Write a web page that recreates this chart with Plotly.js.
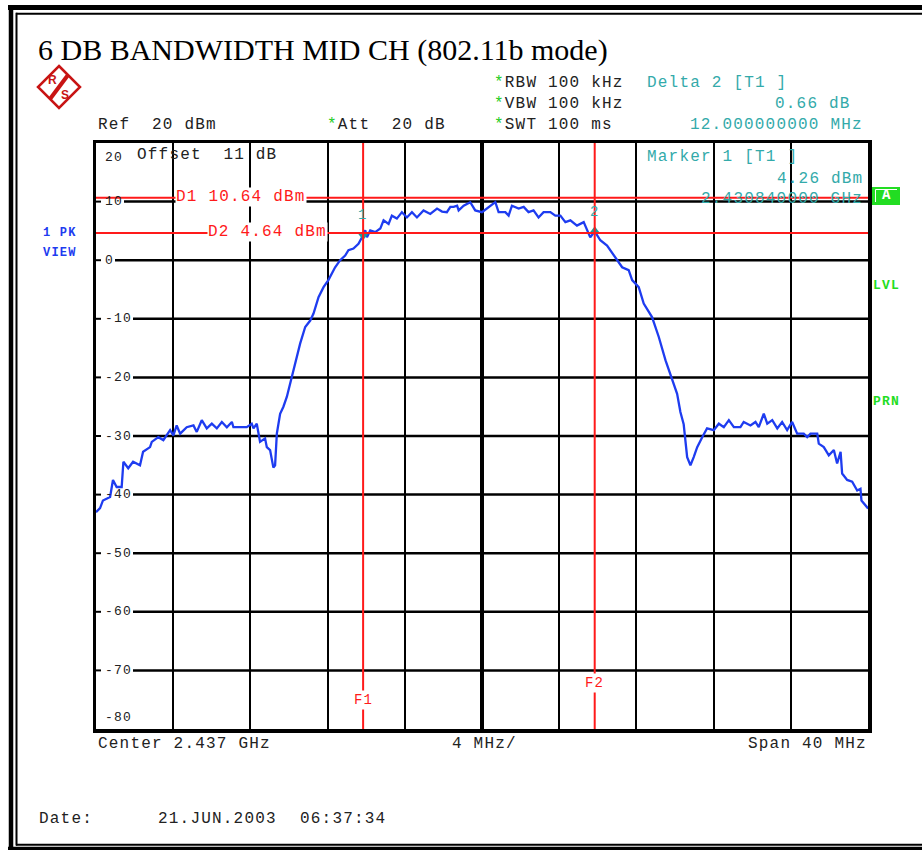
<!DOCTYPE html>
<html><head><meta charset="utf-8">
<script src="https://cdn.plot.ly/plotly-3.0.1.min.js"></script>
<style>
html,body{margin:0;padding:0;background:#fff;}
.annotation-text{letter-spacing:1.2px;}
</style></head><body>
<div id="chart" style="width:922px;height:850px;"></div>
<script>
// ---- data ----
const freqMHz = [2417.00,2417.21,2417.36,2417.73,2417.88,2418.07,2418.33,2418.42,2418.67,2418.92,2419.28,2419.44,2419.80,2419.89,2420.23,2420.49,2420.84,2421.01,2421.18,2421.36,2421.70,2422.05,2422.22,2422.48,2422.74,2423.00,2423.26,2423.52,2423.78,2424.04,2424.12,2424.81,2425.07,2425.16,2425.33,2425.42,2425.50,2425.76,2425.85,2426.02,2426.11,2426.19,2426.28,2426.37,2426.54,2426.71,2426.89,2427.15,2427.32,2427.58,2427.84,2428.10,2428.27,2428.53,2428.79,2429.04,2429.39,2429.65,2429.91,2430.08,2430.34,2430.60,2430.84,2430.95,2431.04,2431.21,2431.47,2431.73,2431.90,2432.16,2432.33,2432.59,2432.85,2433.11,2433.37,2433.63,2433.97,2434.32,2434.67,2434.93,2435.18,2435.36,2435.53,2435.71,2435.79,2436.05,2436.39,2436.65,2437.00,2437.34,2437.69,2437.86,2438.21,2438.38,2438.55,2438.90,2439.16,2439.41,2439.67,2439.93,2440.19,2440.54,2440.80,2441.06,2441.32,2441.58,2441.92,2442.27,2442.44,2442.61,2442.84,2443.13,2443.48,2443.82,2444.26,2444.60,2444.78,2445.12,2445.38,2445.81,2446.16,2446.51,2446.85,2447.11,2447.28,2447.45,2447.63,2447.80,2447.97,2448.15,2448.41,2448.66,2449.01,2449.27,2449.53,2449.79,2450.05,2450.39,2450.56,2450.91,2451.17,2451.34,2451.60,2451.78,2452.04,2452.30,2452.55,2452.81,2453.07,2453.33,2453.67,2453.85,2454.02,2454.37,2454.45,2454.71,2454.97,2455.23,2455.40,2455.58,2455.66,2455.92,2456.18,2456.44,2456.61,2456.66,2456.96,2457.00];
const levelDbm = [-43.0,-42.3,-41.0,-40.4,-37.5,-38.7,-38.7,-34.4,-35.5,-34.4,-35.0,-32.7,-31.9,-31.0,-30.2,-30.7,-29.0,-29.9,-28.2,-29.6,-28.5,-28.2,-29.3,-27.3,-28.7,-27.9,-28.7,-27.6,-28.5,-27.6,-28.5,-28.5,-27.9,-28.7,-27.9,-29.6,-31.0,-30.4,-31.9,-32.4,-33.8,-35.4,-35.0,-29.6,-26.2,-25.0,-23.3,-19.9,-17.6,-14.2,-11.4,-10.3,-9.1,-6.3,-4.6,-3.4,-1.2,0.0,0.8,1.7,2.0,2.8,4.26,5.1,3.9,5.1,4.8,5.4,6.8,6.2,7.6,7.1,8.2,7.3,8.2,7.3,8.5,7.9,8.8,8.3,8.2,9.1,9.1,9.3,8.5,9.3,9.9,8.5,8.2,9.1,9.9,8.2,8.2,7.6,9.3,8.8,9.1,8.2,8.5,7.3,8.2,8.2,7.6,7.6,6.5,6.8,5.9,6.5,5.1,3.9,4.92,3.4,2.5,0.8,-1.2,-1.7,-3.4,-4.6,-7.4,-9.7,-13.1,-17.1,-20.2,-22.8,-25.9,-28.0,-33.6,-35.0,-33.6,-31.9,-30.2,-28.7,-29.0,-27.9,-28.5,-27.3,-28.5,-28.5,-27.6,-28.2,-27.6,-28.5,-26.2,-27.9,-27.3,-28.7,-27.6,-29.0,-27.6,-29.6,-29.6,-30.2,-29.6,-29.6,-31.3,-31.9,-33.3,-32.4,-34.7,-32.7,-36.4,-37.5,-37.8,-39.3,-39.0,-41.0,-42.2,-42.4];
const yTickVals = [20,10,0,-10,-20,-30,-40,-50,-60,-70,-80];
const centerMHz = 2437;
const spanMHz = 40;
const divMHz = 4;
const refLevel = 20;
const attDb = 20;
const offsetDb = 11;
const d1Level = 10.64;
const d2Level = 4.64;
const f1MHz = 2430.84;
const f2MHz = 2442.84;
const marker1Level = 4.26;
const delta2Db = 0.66;
const delta2MHz = 12.0;
const titleText = '6 DB BANDWIDTH MID CH (802.11b mode)';
const dateText = '21.JUN.2003';
const timeText = '06:37:34';

// ---- layout helpers ----
const W = 922, H = 850;
const L = 96, R = 868, T = 143, B = 729;
const px = x => (x - L) / (R - L);
const py = y => (B - y) / (B - T);
const MONO = 'Liberation Mono, Courier New, monospace';
const INK = '#222222', TEAL = '#33AAAA', RED = '#FF1A1A', GREEN = '#22DD22', BLUE = '#1E3CF0';
const nb = s => s.replace(/ /g, '\u00A0');
const star = '<span style="color:#22CC22">*</span>';

function ann(text, x, y, o) {
  o = o || {};
  return Object.assign({
    text: text, x: px(x), y: py(y), xref: 'paper', yref: 'paper',
    xanchor: 'left', yanchor: 'middle', showarrow: false,
    font: {family: MONO, size: 16, color: INK}, borderpad: 0
  }, o);
}

const annotations = [];
// header
annotations.push(ann(nb('Ref  ' + refLevel + ' dBm'), 97, 125));
annotations.push(ann(star + nb('Att  ' + attDb + ' dB'), 326, 125));
annotations.push(ann(star + nb('RBW 100 kHz'), 493, 83));
annotations.push(ann(star + nb('VBW 100 kHz'), 493, 104));
annotations.push(ann(star + nb('SWT 100 ms'), 493, 125));
annotations.push(ann(nb('Delta 2 [T1 ]'), 646, 83, {font: {family: MONO, size: 16, color: TEAL}}));
annotations.push(ann(nb(delta2Db.toFixed(2) + ' dB'), 852, 104, {xanchor: 'right', font: {family: MONO, size: 16, color: TEAL}}));
annotations.push(ann(nb(delta2MHz.toFixed(9) + ' MHz'), 864, 125, {xanchor: 'right', font: {family: MONO, size: 16, color: TEAL}}));
// inside plot text
annotations.push(ann(nb('Marker 1 [T1 ]'), 646, 157, {font: {family: MONO, size: 16, color: TEAL}}));
annotations.push(ann(nb(marker1Level.toFixed(2) + ' dBm'), 864, 179, {xanchor: 'right', font: {family: MONO, size: 16, color: TEAL}}));
annotations.push(ann(nb((f1MHz / 1000).toFixed(9) + ' GHz'), 864, 199, {xanchor: 'right', font: {family: MONO, size: 16, color: TEAL}}));
annotations.push(ann(nb('Offset  ' + offsetDb + ' dB'), 136, 155));
// y tick labels
yTickVals.forEach(v => {
  let y = B - (v - (-80)) / 100 * (B - T);
  if (v === 20) y = 157;
  if (v === -80) y = 717;
  annotations.push(ann(String(v), 104, y, {font: {family: MONO, size: 13, color: INK}}));
});
// bottom
annotations.push(ann(nb('Center ' + (centerMHz / 1000).toFixed(3) + ' GHz'), 97, 744));
annotations.push(ann(nb(divMHz + ' MHz/'), 451, 744));
annotations.push(ann(nb('Span ' + spanMHz + ' MHz'), 868, 744, {xanchor: 'right'}));
annotations.push(ann(nb('Date:'), 38, 819));
annotations.push(ann(nb(dateText), 157, 819));
annotations.push(ann(nb(timeText), 299, 819));
// side labels
annotations.push(ann('<b>' + nb('1 PK') + '</b>', 42, 233, {font: {family: MONO, size: 12, color: BLUE}}));
annotations.push(ann('<b>VIEW</b>', 42, 253, {font: {family: MONO, size: 12, color: BLUE}}));
annotations.push(ann('<b>LVL</b>', 872, 285, {font: {family: MONO, size: 13, color: GREEN}}));
annotations.push(ann('<b>PRN</b>', 872, 401, {font: {family: MONO, size: 13, color: GREEN}}));
annotations.push(ann('<b>A</b>', 886.5, 195.5, {xanchor: 'center', font: {family: MONO, size: 14, color: '#FFFFFF'}}));
// display lines labels
annotations.push({text: nb('D1 ' + d1Level.toFixed(2) + ' dBm'), x: px(175), y: d1Level, xref: 'paper', yref: 'y',
  xanchor: 'left', yanchor: 'middle', showarrow: false, bgcolor: '#FFFFFF', borderpad: 0, yshift: 1,
  font: {family: MONO, size: 16, color: RED}});
annotations.push({text: nb('D2 ' + d2Level.toFixed(2) + ' dBm'), x: px(207), y: d2Level, xref: 'paper', yref: 'y',
  xanchor: 'left', yanchor: 'middle', showarrow: false, bgcolor: '#FFFFFF', borderpad: 0, yshift: 1,
  font: {family: MONO, size: 16, color: RED}});
annotations.push({text: 'F1', x: f1MHz, y: py(700), xref: 'x', yref: 'paper', xanchor: 'center', yanchor: 'middle',
  showarrow: false, bgcolor: '#FFFFFF', borderpad: 1, font: {family: MONO, size: 14, color: RED}});
annotations.push({text: 'F2', x: f2MHz, y: py(683), xref: 'x', yref: 'paper', xanchor: 'center', yanchor: 'middle',
  showarrow: false, bgcolor: '#FFFFFF', borderpad: 1, font: {family: MONO, size: 14, color: RED}});
// marker numbers
annotations.push({text: '1', x: f1MHz, y: marker1Level, xref: 'x', yref: 'y', yshift: 20, showarrow: false,
  xanchor: 'center', yanchor: 'middle', font: {family: MONO, size: 14, color: TEAL}});
annotations.push({text: '2', x: f2MHz, y: marker1Level + delta2Db, xref: 'x', yref: 'y', yshift: 19, showarrow: false,
  xanchor: 'center', yanchor: 'middle', font: {family: MONO, size: 14, color: TEAL}});

// ---- shapes ----
const shapes = [];
// horizontal grid lines (broken by their tick labels)
yTickVals.forEach(v => {
  if (v === 20 || v === -80) return;
  const n = String(v).length;
  const xs = 104 + 9 * n + 2;
  shapes.push({type: 'line', xref: 'paper', yref: 'y', x0: px(xs), x1: 1, y0: v, y1: v,
    line: {color: '#000', width: 2.5}, layer: 'below'});
  shapes.push({type: 'line', xref: 'paper', yref: 'y', x0: 0, x1: px(101), y0: v, y1: v,
    line: {color: '#000', width: 2}, layer: 'below'});
});
// center thick line
shapes.push({type: 'line', xref: 'x', yref: 'paper', x0: centerMHz, x1: centerMHz, y0: 0, y1: 1,
  line: {color: '#000', width: 4}, layer: 'below'});
// display lines
shapes.push({type: 'line', xref: 'paper', yref: 'y', x0: 0, x1: 1, y0: d1Level, y1: d1Level, line: {color: RED, width: 2}});
shapes.push({type: 'line', xref: 'paper', yref: 'y', x0: 0, x1: 1, y0: d2Level, y1: d2Level, line: {color: RED, width: 2}});
shapes.push({type: 'line', xref: 'x', yref: 'paper', x0: f1MHz, x1: f1MHz, y0: 0, y1: 1, line: {color: RED, width: 2}});
shapes.push({type: 'line', xref: 'x', yref: 'paper', x0: f2MHz, x1: f2MHz, y0: 0, y1: 1, line: {color: RED, width: 2}});
// outer page frame
shapes.push({type: 'line', xref: 'paper', yref: 'paper', x0: px(8), x1: px(930), y0: py(7.5), y1: py(7.5), line: {color: '#000', width: 5}});
shapes.push({type: 'line', xref: 'paper', yref: 'paper', x0: px(16), x1: px(930), y0: py(13.7), y1: py(13.7), line: {color: '#000', width: 2}});
shapes.push({type: 'line', xref: 'paper', yref: 'paper', x0: px(11), x1: px(11), y0: py(5), y1: py(851), line: {color: '#000', width: 4.5}});
shapes.push({type: 'line', xref: 'paper', yref: 'paper', x0: px(16.5), x1: px(16.5), y0: py(12.7), y1: py(845.5), line: {color: '#000', width: 2}});
shapes.push({type: 'line', xref: 'paper', yref: 'paper', x0: px(16), x1: px(930), y0: py(844.7), y1: py(844.7), line: {color: '#000', width: 2}});
shapes.push({type: 'line', xref: 'paper', yref: 'paper', x0: px(8), x1: px(930), y0: py(848.5), y1: py(848.5), line: {color: '#000', width: 3.5}});
// R&S logo
const P = (x, y) => px(x) + ',' + py(y);
shapes.push({type: 'path', xref: 'paper', yref: 'paper',
  path: 'M' + P(59, 66) + ' L' + P(80, 87) + ' L' + P(59, 108) + ' L' + P(38, 87) + ' Z',
  line: {color: '#C81414', width: 2.5}});
shapes.push({type: 'line', xref: 'paper', yref: 'paper', x0: px(68), y0: py(75), x1: px(50), y1: py(99),
  line: {color: '#C81414', width: 4}});
annotations.push(ann('<b>R</b>', 52.5, 80.5, {xanchor: 'center', font: {family: 'Liberation Sans, Arial', size: 12, color: '#C81414'}}));
annotations.push(ann('<b>S</b>', 65.5, 94.5, {xanchor: 'center', font: {family: 'Liberation Sans, Arial', size: 12, color: '#C81414'}}));
// green "A" box
shapes.push({type: 'rect', xref: 'paper', yref: 'paper', x0: px(872), x1: px(900), y0: py(187), y1: py(205),
  fillcolor: GREEN, line: {width: 0}});
shapes.push({type: 'path', xref: 'paper', yref: 'paper',
  path: 'M' + P(875.5, 202) + ' L' + P(875.5, 189.5) + ' L' + P(897, 189.5),
  line: {color: '#FFFFFF', width: 1}});

// ---- traces ----
const traces = [
  {x: freqMHz, y: levelDbm, type: 'scatter', mode: 'lines', line: {color: BLUE, width: 2.3}, hoverinfo: 'skip'},
  {x: [f1MHz, f2MHz], y: [marker1Level, marker1Level + delta2Db], type: 'scatter', mode: 'markers',
   marker: {symbol: ['triangle-down', 'triangle-up'], size: 10, color: '#1A9A9A'}, hoverinfo: 'skip'}
];

const layout = {
  width: W, height: H,
  margin: {l: L, r: W - R, t: T, b: H - B, pad: 0},
  paper_bgcolor: '#FFFFFF', plot_bgcolor: '#FFFFFF',
  showlegend: false,
  title: {text: titleText, x: 38 / W, xref: 'container', xanchor: 'left', y: 1 - 49 / H, yref: 'container', yanchor: 'middle',
    font: {family: 'Liberation Serif, Times New Roman, serif', size: 30, color: '#000'}},
  xaxis: {range: [centerMHz - spanMHz / 2, centerMHz + spanMHz / 2], dtick: divMHz, tick0: centerMHz,
    showgrid: true, gridcolor: '#000', gridwidth: 2, zeroline: false, showticklabels: false, ticks: '',
    showline: true, linecolor: '#000', linewidth: 3.5, mirror: true, fixedrange: true},
  yaxis: {range: [-80, 20], showgrid: false, zeroline: false, showticklabels: false, ticks: '',
    showline: true, linecolor: '#000', linewidth: 3.5, mirror: true, fixedrange: true},
  shapes: shapes,
  annotations: annotations
};

Plotly.newPlot('chart', traces, layout, {staticPlot: true, displayModeBar: false});
</script>
</body></html>
